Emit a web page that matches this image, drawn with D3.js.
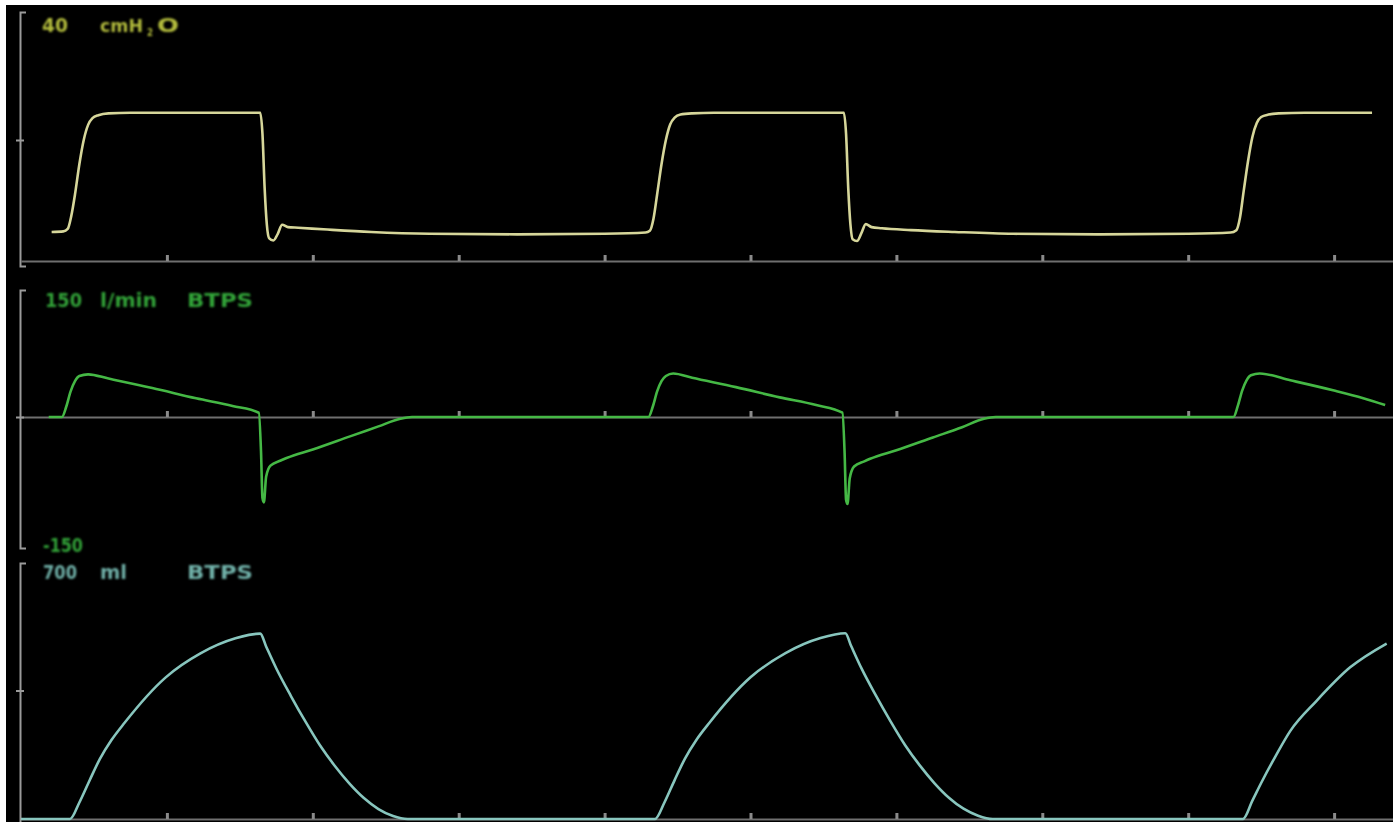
<!DOCTYPE html>
<html>
<head>
<meta charset="utf-8">
<script src="https://cdn.jsdelivr.net/npm/d3@7"></script>
<style>
  body { margin:0; background:#fff; }
  svg { display:block; }
  .lbl { font-family:"DejaVu Sans", sans-serif; font-weight:bold; }
</style>
</head>
<body>
<div id="plotarea"></div>
<script>
// time in seconds (one tick = 1 s)
var timeTicks = [1,2,3,4,5,6,7,8,9];

// airway pressure, cmH2O
var pressureT = [0.21,0.29,0.32,0.345,0.37,0.40,0.43,0.46,0.49,0.53,0.60,0.75,1.64,1.655,1.67,1.685,1.70,1.73,1.76,1.79,1.83,1.90,2.10,2.40,2.80,3.40,4.00,
                 4.28,4.31,4.335,4.36,4.39,4.42,4.45,4.48,4.52,4.60,4.75,5.64,5.655,5.67,5.685,5.70,5.73,5.76,5.79,5.83,5.90,6.10,6.40,6.80,7.40,8.00,
                 8.29,8.33,8.355,8.38,8.41,8.44,8.47,8.50,8.55,8.62,8.80,9.26];
var pressureV = [4.8,4.9,5.3,7.5,11,16,20,22.5,23.6,24.1,24.4,24.5,24.5,21,12,6,3.8,3.4,4.5,6.0,5.6,5.5,5.2,4.8,4.5,4.4,4.5,
                 4.7,5.0,7.0,11,16,20,22.6,23.7,24.2,24.4,24.5,24.5,21,12,6,3.6,3.3,4.6,6.1,5.6,5.4,5.1,4.8,4.5,4.4,4.5,
                 4.7,5.1,7.2,11.5,16.5,20.5,22.8,23.8,24.2,24.4,24.5,24.5];

// flow, l/min
var flowT = [0.19,0.28,0.31,0.34,0.37,0.40,0.46,0.60,0.90,1.20,1.45,1.63,1.645,1.655,1.665,1.68,1.71,1.78,1.82,2.00,2.25,2.45,2.60,2.68,
             4.30,4.33,4.36,4.39,4.42,4.47,4.60,4.90,5.20,5.45,5.63,5.645,5.655,5.665,5.68,5.71,5.78,5.82,6.00,6.25,6.45,6.60,6.68,
             8.31,8.34,8.37,8.40,8.43,8.49,8.70,9.00,9.20,9.35];
var flowV = [0,0,12,30,42,48,50,45,34,22,13,5,-40,-95,-100,-70,-57,-51,-48,-38,-23,-11,-2,0,
             0,12,30,42,48,51,46,35,23,14,5,-42,-97,-102,-72,-58,-52,-49,-39,-24,-12,-2,0,
             0,13,31,43,49,51,43,31,22,14];

// volume, ml
var volumeT = [0.0,0.336,0.40,0.47,0.54,0.62,0.71,0.99,1.23,1.47,1.64,1.68,1.75,1.85,1.95,2.05,2.15,2.25,2.35,2.45,2.55,2.65,
               4.345,4.41,4.48,4.55,4.63,4.72,5.00,5.24,5.48,5.65,5.69,5.76,5.86,5.96,6.06,6.16,6.26,6.36,6.46,6.56,6.66,
               8.375,8.44,8.50,8.60,8.70,8.88,9.11,9.36];
var volumeV = [0,0,45,105,163,215,262,385,451,492,505,470,410,335,265,200,145,97,57,27,8,0,
               0,45,106,164,216,263,386,452,493,506,471,411,336,266,201,146,98,58,28,9,0,
               0,50,98,172,240,322,413,478];

var width = 1393, height = 822;
var svg = d3.select("#plotarea").append("svg")
    .attr("width", width)
    .attr("height", height);

// black screen with the thin white margin at left and top
svg.append("rect").attr("x", 6).attr("y", 5)
    .attr("width", width - 6).attr("height", height - 5)
    .attr("fill", "#000");

var defs = svg.append("defs");
var glow = defs.append("filter").attr("id", "glow");
glow.append("feGaussianBlur").attr("stdDeviation", 0.7);
var soft = defs.append("filter").attr("id", "soft");
soft.append("feGaussianBlur").attr("stdDeviation", 0.9);

var x = d3.scaleLinear().domain([0, 9.4]).range([21, 21 + 9.4 * 145.9]);

var panels = [
  { t: pressureT, v: pressureV, dom: [0, 40], rng: [261, 19], br: [266, 12], tick: [20], base: 261,
    color: "#d6d69a", lblColor: "#b2bb3c" },
  { t: flowT, v: flowV, dom: [-150, 150], rng: [545, 289], br: [548, 290], tick: [0], base: 417,
    color: "#45b845", lblColor: "#32a238" },
  { t: volumeT, v: volumeV, dom: [0, 700], rng: [819, 562], br: [836, 563], tick: [350], base: 819,
    color: "#88c6be", lblColor: "#70b0a8" }
];

panels.forEach(function(p) {
  var y = d3.scaleLinear().domain(p.dom).range(p.rng);

  // time axis with small upward ticks
  svg.append("g")
    .attr("transform", "translate(0," + p.base + ")")
    .call(d3.axisTop(x).tickValues(timeTicks).tickSize(6).tickSizeOuter(0).tickFormat(""))
    .call(function(g) {
      g.select(".domain").attr("stroke", "#6f6f6f").attr("stroke-width", 2);
      g.selectAll(".tick line").attr("stroke", "#8a8a8a").attr("stroke-width", 3);
    });

  // the bracket on the left: same mapping, stretched to the bracket ends
  var yb = y.copy().domain([y.invert(p.br[0]), y.invert(p.br[1])]).range(p.br);
  svg.append("g")
    .attr("transform", "translate(20,0)")
    .call(d3.axisRight(yb).tickValues(p.tick).tickSizeInner(4).tickSizeOuter(6).tickFormat(""))
    .call(function(g) {
      g.select(".domain").attr("stroke", "#9a9a9a").attr("stroke-width", 2);
      g.selectAll(".tick line").attr("stroke", "#9a9a9a").attr("stroke-width", 2).attr("x1", -4);
    });

  var pts = p.t.map(function(d, i) { return [d, p.v[i]]; });
  var line = d3.line()
    .x(function(d) { return x(d[0]); })
    .y(function(d) { return y(d[1]); })
    .curve(d3.curveMonotoneX);

  svg.append("path").datum(pts)
    .attr("d", line)
    .attr("fill", "none")
    .attr("stroke", p.color)
    .attr("stroke-width", 2.6)
    .attr("stroke-linejoin", "round")
    .attr("filter", "url(#glow)");
});

// channel labels, stretched to the width they have on the monitor
function label(txt, xp, yp, w, col, size) {
  return svg.append("text").attr("class", "lbl")
    .attr("x", xp).attr("y", yp)
    .attr("textLength", w).attr("lengthAdjust", "spacingAndGlyphs")
    .attr("font-size", size || 20)
    .attr("fill", col).attr("filter", "url(#soft)").text(txt);
}
var c0 = panels[0].lblColor, c1 = panels[1].lblColor, c2 = panels[2].lblColor;
label("40", 42, 32, 26, c0);
label("cmH", 100, 32, 43, c0, 17);
label("2", 147, 36, 6, c0, 11);
label("O", 157, 32, 22, c0);

label("150", 45, 307, 37, c1);
label("l/min", 100, 307, 57, c1);
label("BTPS", 187, 307, 66, c1);
label("-150", 43, 552, 40, c1);

label("700", 43, 579, 34, c2);
label("ml", 100, 579, 27, c2);
label("BTPS", 187, 579, 66, c2);
</script>
</body>
</html>
